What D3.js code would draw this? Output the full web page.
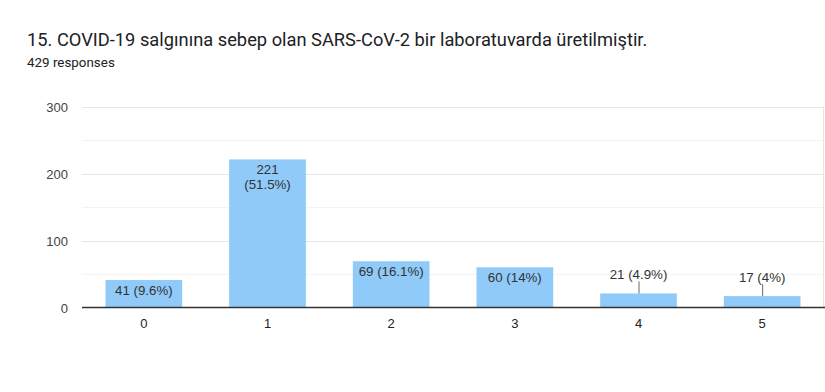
<!DOCTYPE html>
<html>
<head>
<meta charset="utf-8">
<script src="https://cdn.jsdelivr.net/npm/d3@7"></script>
<style>
  body { margin: 0; background: #fff; }
  svg { display: block; }
</style>
</head>
<body>
<svg id="chart" width="825" height="392"></svg>
<script>
// chart data
let title = "15. COVID-19 salgınına sebep olan SARS-CoV-2 bir laboratuvarda üretilmiştir."
let subtitle = "429 responses"
let categories = ["0", "1", "2", "3", "4", "5"]
let counts = [41, 221, 69, 60, 21, 17]
let percents = ["9.6%", "51.5%", "16.1%", "14%", "4.9%", "4%"]
let yTicks = [0, 100, 200, 300]

let svg = d3.select('#chart')
let margin = {left: 82, right: 1, top: 107, bottom: 84}
let width = 825
let height = 392

let x = d3.scaleBand()
    .domain(categories)
    .range([margin.left, width - margin.right])
    .paddingInner(0.38)
    .paddingOuter(0.19)

let y = d3.scaleLinear()
    .domain([0, 300])
    .range([height - margin.bottom - 0.5, margin.top - 0.5])

// title
svg.append('text')
    .attr('x', 27).attr('y', 46)
    .attr('font-family', 'Roboto, sans-serif')
    .attr('font-size', 18.3)
    .attr('fill', '#202124')
    .text(title)

svg.append('text')
    .attr('x', 27).attr('y', 67)
    .attr('font-family', 'Roboto, sans-serif')
    .attr('font-size', 13.4)
    .attr('fill', '#202124')
    .text(subtitle)

// minor gridlines
let minor = d3.range(50, 300, 100)
svg.selectAll('.minor')
    .data(minor)
    .enter()
    .append('line')
    .attr('x1', margin.left).attr('x2', width - margin.right)
    .attr('y1', d => Math.round(y(d)) + 0.5)
    .attr('y2', d => Math.round(y(d)) + 0.5)
    .attr('stroke', '#f3f3f3')

// major gridlines
svg.selectAll('.major')
    .data(yTicks.slice(1))
    .enter()
    .append('line')
    .attr('x1', margin.left).attr('x2', width - margin.right)
    .attr('y1', d => Math.round(y(d)) + 0.5)
    .attr('y2', d => Math.round(y(d)) + 0.5)
    .attr('stroke', '#e6e6e6')

// right border
svg.append('line')
    .attr('x1', width - 1.5).attr('x2', width - 1.5)
    .attr('y1', y(300)).attr('y2', y(0))
    .attr('stroke', '#e6e6e6')

// y axis labels
svg.selectAll('.ylab')
    .data(yTicks)
    .enter()
    .append('text')
    .attr('x', 68)
    .attr('y', d => y(d) + 5)
    .attr('text-anchor', 'end')
    .attr('font-family', 'Arial, "Liberation Sans", sans-serif')
    .attr('font-size', 13)
    .attr('fill', '#444')
    .text(d => d)

// bars
svg.selectAll('.bar')
    .data(counts)
    .enter()
    .append('rect')
    .attr('x', (d, i) => x(categories[i]))
    .attr('width', x.bandwidth())
    .attr('y', d => y(d))
    .attr('height', d => y(0) - y(d))
    .attr('fill', '#90caf9')

// baseline
svg.append('line')
    .attr('x1', margin.left).attr('x2', width)
    .attr('y1', y(0)).attr('y2', y(0))
    .attr('stroke', '#333')
    .attr('stroke-width', 1.3)

// x axis labels
svg.selectAll('.xlab')
    .data(categories)
    .enter()
    .append('text')
    .attr('x', d => x(d) + x.bandwidth() / 2)
    .attr('y', 328)
    .attr('text-anchor', 'middle')
    .attr('font-family', 'Arial, "Liberation Sans", sans-serif')
    .attr('font-size', 13)
    .attr('fill', '#222')
    .text(d => d)

// value labels
counts.forEach((d, i) => {
    let cx = x(categories[i]) + x.bandwidth() / 2
    let label = d + ' (' + percents[i] + ')'
    let barH = y(0) - y(d)
    let t = svg.append('text')
        .attr('x', cx)
        .attr('text-anchor', 'middle')
        .attr('font-family', 'Arial, "Liberation Sans", sans-serif')
        .attr('font-size', 13.3)
        .attr('fill', '#333')
        .text(label)
    let w = t.node().getComputedTextLength()
    if (barH < 22) {
        // outside with a leader line
        t.attr('y', y(d) - 14)
        svg.append('line')
            .attr('x1', cx + 0.5).attr('x2', cx + 0.5)
            .attr('y1', y(d)).attr('y2', y(d) - 12)
            .attr('stroke', '#666')
    } else if (w > x.bandwidth() - 6) {
        t.text(null)
        t.append('tspan').attr('x', cx).attr('y', y(d) + 15).text(d)
        t.append('tspan').attr('x', cx).attr('y', y(d) + 30).text('(' + percents[i] + ')')
    } else {
        t.attr('y', y(d) + 15)
    }
})
</script>
</body>
</html>
